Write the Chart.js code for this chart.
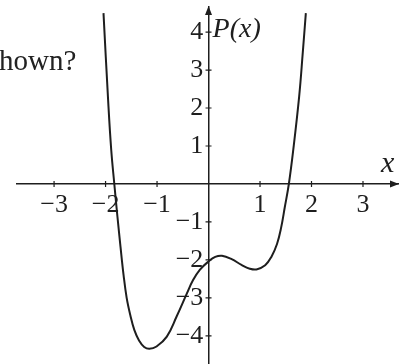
<!DOCTYPE html>
<html lang="en">
<head>
  <meta charset="UTF-8" />
  <title>P(x)</title>
  <script src="https://cdn.jsdelivr.net/npm/chart.js"></script>
  <style>
    * { margin: 0; padding: 0; box-sizing: border-box; }
    html, body { width: 406px; height: 364px; background: #fff; overflow: hidden; }
    #wrap { position: relative; width: 406px; height: 364px; }
    /* tail of the question text to the left of the graph */
    #question {
      position: absolute; left: -1px; top: 44px;
      font-family: 'Liberation Serif', 'Times New Roman', serif;
      font-size: 29px; color: #222; white-space: nowrap;
    }
  </style>
</head>
<body>
  <div id="wrap">
    <canvas id="graph" width="406" height="364"></canvas>
    <div id="question">hown?</div>
  </div>

  <script>
    // points read along the curve of P(x)
    const xs = [-2.04, -1.95, -1.89, -1.83, -1.77, -1.71, -1.65, -1.59, -1.52, -1.44, -1.35, -1.25, -1.15, -1.01, -0.81, -0.62, -0.42, -0.30, -0.17, 0.0,
                0.13, 0.26, 0.45, 0.64, 0.80, 0.93, 1.10, 1.22, 1.33, 1.41, 1.48, 1.56, 1.645, 1.76, 1.83, 1.89];
    const ys = [4.5, 2.2, 0.9, 0.0, -0.85, -1.65, -2.40, -3.0, -3.45, -3.85, -4.12, -4.29, -4.34, -4.28, -4.02, -3.49, -2.88, -2.53, -2.26, -2.04,
                -1.92, -1.89, -1.98, -2.13, -2.23, -2.25, -2.14, -1.92, -1.58, -1.15, -0.62, 0.0, 0.89, 2.3, 3.45, 4.5];

    const xTicks = [-3, -2, -1, 1, 2, 3];
    const yTicks = [-4, -3, -2, -1, 1, 2, 3, 4];
    const xTickLabels = ['\u22123', '\u22122', '\u22121', '1', '2', '3'];
    const yTickLabels = ['\u22124', '\u22123', '\u22122', '\u22121', '1', '2', '3', '4'];

    const ink = '#1e1e1e';
    const serif = "'Liberation Serif', 'Times New Roman', serif";

    // small crossing tick marks, arrowheads and axis names
    const axisDecor = {
      id: 'axisDecor',
      afterDraw(chart) {
        const { ctx, chartArea: a } = chart;
        const sx = chart.scales.x, sy = chart.scales.y;
        const x0 = sx.getPixelForValue(0);
        const y0 = sy.getPixelForValue(0);
        ctx.save();
        ctx.strokeStyle = ink;
        ctx.fillStyle = ink;
        ctx.lineWidth = 1.2;
        ctx.beginPath();
        xTicks.forEach(v => {
          const px = sx.getPixelForValue(v);
          ctx.moveTo(px, y0 - 3); ctx.lineTo(px, y0 + 3);
        });
        yTicks.forEach(v => {
          const py = sy.getPixelForValue(v);
          ctx.moveTo(x0 - 3, py); ctx.lineTo(x0 + 3, py);
        });
        ctx.stroke();

        // arrowheads
        ctx.beginPath();
        ctx.moveTo(a.right + 1, y0);
        ctx.lineTo(a.right - 8, y0 - 3.5);
        ctx.lineTo(a.right - 8, y0 + 3.5);
        ctx.closePath();
        ctx.fill();
        ctx.beginPath();
        ctx.moveTo(x0, a.top - 1);
        ctx.lineTo(x0 - 3.5, a.top + 8);
        ctx.lineTo(x0 + 3.5, a.top + 8);
        ctx.closePath();
        ctx.fill();

        // axis names
        ctx.textBaseline = 'alphabetic';
        ctx.textAlign = 'left';
        ctx.font = 'italic 28px ' + serif;
        ctx.fillText('P(x)', x0 + 4, 37);
        ctx.font = 'italic 30px ' + serif;
        ctx.fillText('x', 381, 172);
        ctx.restore();
      }
    };

    const tickFont = { family: serif, size: 26 };
    // axes cross inside the plot, so their labels need no extra room at the edges
    const noEdgePadding = s => {
      s.paddingTop = 0; s.paddingBottom = 0; s.paddingLeft = 0; s.paddingRight = 0;
    };

    new Chart(document.getElementById('graph'), {
      type: 'line',
      data: {
        datasets: [{
          data: xs.map((x, i) => ({ x: x, y: ys[i] })),
          borderColor: ink,
          borderWidth: 2,
          pointRadius: 0,
          fill: false,
          tension: 0.4
        }]
      },
      options: {
        responsive: false,
        animation: false,
        layout: { padding: { left: 17, right: 8, top: 7, bottom: 0 } },
        plugins: { legend: { display: false }, tooltip: { enabled: false } },
        scales: {
          x: {
            type: 'linear',
            min: -3.72,
            max: 3.68,
            position: { y: 0 },
            afterBuildTicks: s => { s.ticks = xTicks.map(v => ({ value: v })); },
            afterFit: noEdgePadding,
            grid: { drawOnChartArea: false, drawTicks: false },
            border: { color: ink, width: 1.5 },
            ticks: {
              padding: 6,
              autoSkip: false,
              maxRotation: 0,
              color: ink,
              font: tickFont,
              callback: (v) => xTickLabels[xTicks.indexOf(v)]
            }
          },
          y: {
            type: 'linear',
            min: -4.74,
            max: 4.66,
            position: { x: 0 },
            afterBuildTicks: s => { s.ticks = yTicks.map(v => ({ value: v })); },
            afterFit: noEdgePadding,
            grid: { drawOnChartArea: false, drawTicks: false },
            border: { color: ink, width: 1.5 },
            ticks: {
              autoSkip: false,
              color: ink,
              font: tickFont,
              // thin space keeps the right-aligned labels off the axis line
              callback: (v) => yTickLabels[yTicks.indexOf(v)] + '\u2009'
            }
          }
        }
      },
      plugins: [axisDecor]
    });
  </script>
</body>
</html>
